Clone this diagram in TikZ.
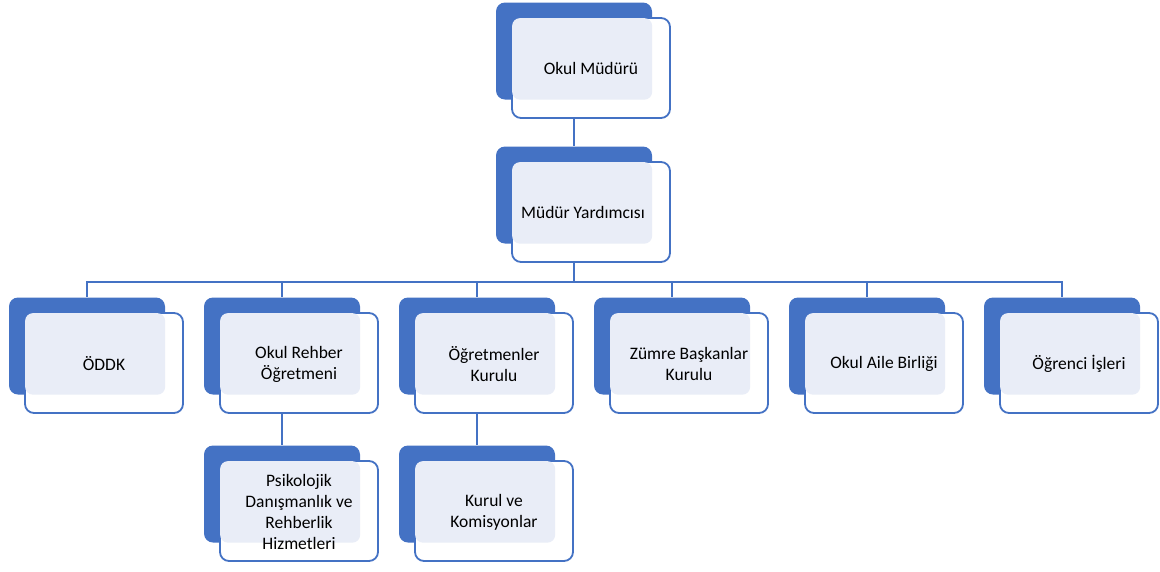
\documentclass[tikz,border=0pt]{standalone}
\usepackage{fontspec}
\setmainfont{Carlito}
\usetikzlibrary{calc}

\definecolor{boxblue}{HTML}{4472C4}
\definecolor{boxlight}{HTML}{E9EDF7}

\tikzset{
  backbox/.style={fill=boxblue, rounded corners=9pt, minimum width=156pt,
    minimum height=97pt, inner sep=0pt},
  frontbox/.style={draw=boxblue, line width=1.8pt, fill=white, rounded corners=9pt,
    minimum width=158pt, minimum height=100pt, inner sep=0pt},
  lightbox/.style={fill=boxlight, rounded corners=8pt},
  boxtext/.style={align=center, font=\fontsize{17.5}{21}\selectfont, inner sep=0pt},
  link/.style={draw=boxblue, line width=1.5pt}
}

\begin{document}
\begin{tikzpicture}[x=1pt, y=-1pt]
        \useasboundingbox (0,0) rectangle (1160,571);
        %
        \node[backbox] (b0) at (574,51) {};
        \node[frontbox] (f0) at ($(b0)+(17,17)$) {};
        \fill[lightbox] ([shift={(1,1)}]f0.north west) rectangle (b0.south east);
        \node[boxtext] (t0) at (f0) {Okul Müdürü};
        %
        \node[backbox] (bm) at (574,195) {};
        \node[frontbox] (fm) at ($(bm)+(17,17)$) {};
        \fill[lightbox] ([shift={(1,1)}]fm.north west) rectangle (bm.south east);
        \node[boxtext] (tm) at ($(fm)+(-8,0)$) {Müdür Yardımcısı};
        %
        \foreach \n/\x/\txt in {1/87/{ÖDDK}, 2/282/{Okul Rehber\\Öğretmeni},
            3/477/{Öğretmenler\\Kurulu}, 4/672/{Zümre Başkanlar\\Kurulu},
            5/867/{Okul Aile Birliği}, 6/1062/{Öğrenci İşleri},
            7/282/{Psikolojik\\Danışmanlık ve\\Rehberlik\\Hizmetleri},
            8/477/{Kurul ve\\Komisyonlar}} {
          \ifnum\n<7 \def\y{346}\else \def\y{494}\fi
          \node[backbox] (b\n) at (\x,\y) {};
          \node[frontbox] (f\n) at ($(b\n)+(17,17)$) {};
          \fill[lightbox] ([shift={(1,1)}]f\n.north west) rectangle (b\n.south east);
          \node[boxtext] (t\n) at ($(f\n)+(0,1)$) {\txt};
        }
        %
        \draw[link] (bm.north |- f0.south) -- (bm.north);
        \foreach \n in {1,...,6}
          \draw[link] (bm.south |- fm.south) -- ++(0,19) -| (b\n.north);
        \draw[link] (b2.south |- f2.south) -- (b7.north);
        \draw[link] (b3.south |- f3.south) -- (b8.north);
\end{tikzpicture}
\end{document}
